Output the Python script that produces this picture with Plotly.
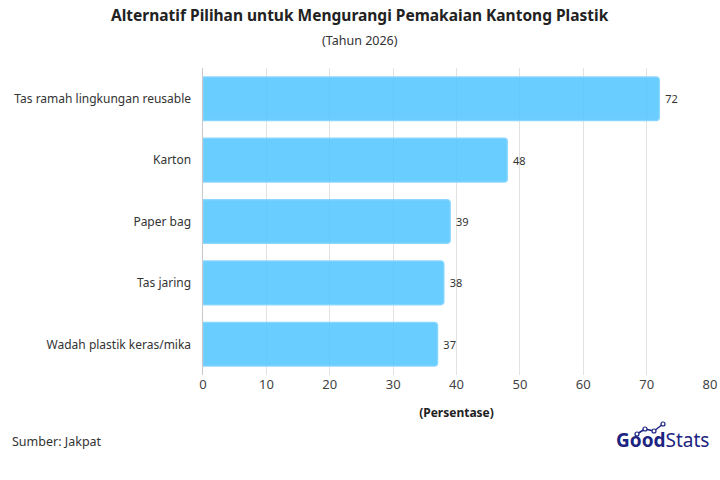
import plotly.graph_objects as go

categories = ["Tas ramah lingkungan reusable", "Karton", "Paper bag", "Tas jaring", "Wadah plastik keras/mika"]
values = [72, 48, 39, 38, 37]
x_ticks = [0, 10, 20, 30, 40, 50, 60, 70, 80]

FONT = "'Noto Sans', 'Open Sans', sans-serif"

W, H = 720, 480
L, R, T, B = 203, 10, 68, 105
pw = W - L - R
ph = H - T - B
def px(x): return (x - L) / pw          # window px -> paper
def py(y): return (H - B - y) / ph      # window px -> paper

fig = go.Figure()
fig.add_trace(go.Bar(
    y=categories, x=values, orientation="h",
    marker=dict(color="rgba(80,196,255,0.85)", line=dict(color="rgba(130,212,255,0.9)", width=1.5),
                cornerradius=3),
    width=0.71,
    text=["\u00a0" + str(v) for v in values], textposition="outside",
    textfont=dict(size=11, color="#333333", family=FONT),
    cliponaxis=False,
    hoverinfo="skip",
))

fig.update_layout(
    width=W, height=H,
    margin=dict(l=L, r=R, t=T, b=B, autoexpand=False),
    paper_bgcolor="white", plot_bgcolor="white",
    font=dict(family=FONT, color="#333333"),
    showlegend=False,
    xaxis=dict(range=[0, 80], tickvals=x_ticks, showgrid=True, gridcolor="#e2e2e2", gridwidth=1,
               zeroline=False, showline=False, ticks="", automargin=False,
               tickfont=dict(size=13, color="#444444", family=FONT),
               title=dict(text="<b>(Persentase)</b>", font=dict(size=12, color="#222222", family=FONT), standoff=16)),
    yaxis=dict(autorange="reversed", showgrid=False, showline=True, linecolor="#c8c8c8", linewidth=1.5,
               ticks="", ticklabelstandoff=8, automargin=False,
               tickfont=dict(size=12, color="#333333", family=FONT)),
    annotations=[
        dict(text="<b>Alternatif Pilihan untuk Mengurangi Pemakaian Kantong Plastik</b>",
             x=px(360), xref="paper", xanchor="center", y=py(15), yref="paper",
             yanchor="middle", showarrow=False, font=dict(size=15.5, color="#222222", family=FONT)),
        dict(text="(Tahun 2026)", x=px(360), xref="paper", xanchor="center", y=py(41), yref="paper",
             yanchor="middle", showarrow=False, font=dict(size=12.5, color="#333333", family=FONT)),
        dict(text="Sumber: Jakpat", x=px(10), xref="paper", xanchor="left", y=py(441), yref="paper",
             yanchor="middle", showarrow=False, font=dict(size=12.5, color="#333333", family=FONT)),
        dict(text="<b>Good</b>Stats", x=px(711), xref="paper", xanchor="right", y=py(440), yref="paper",
             yanchor="middle", showarrow=False, font=dict(size=19, color="#1c2380", family=FONT)),
    ],
)

# small logo graph icon
pts = [(637, 434), (645, 429), (654, 431), (663, 424)]
for (x0, y0), (x1, y1) in zip(pts[:-1], pts[1:]):
    fig.add_shape(type="line", xref="paper", yref="paper", x0=px(x0), y0=py(y0), x1=px(x1), y1=py(y1),
                  line=dict(color="#1c2380", width=1.5))
for (x, y) in pts:
    fig.add_shape(type="circle", xref="paper", yref="paper", x0=px(x - 2), y0=py(y - 2), x1=px(x + 2), y1=py(y + 2),
                  line=dict(color="#1c2380", width=1.2), fillcolor="white")

fig.write_html("out.html", config={"displayModeBar": False, "staticPlot": True},
               post_script="document.body.style.margin='0';document.body.style.overflow='hidden';")
